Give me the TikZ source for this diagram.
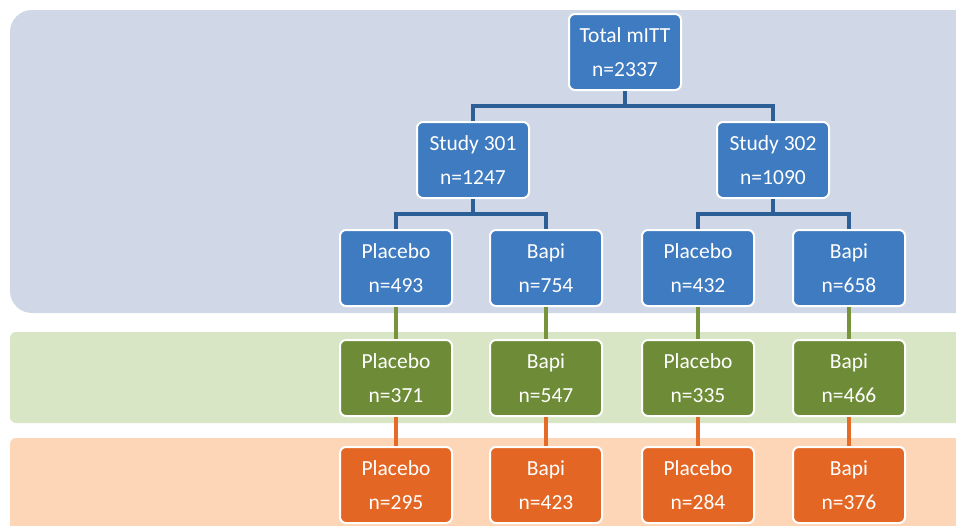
\documentclass[tikz,border=0pt]{standalone}
\usepackage{fontspec}
\setmainfont{Carlito}
\definecolor{bandblue}{HTML}{D0D8E8}
\definecolor{bandgreen}{HTML}{D8E6C6}
\definecolor{bandorange}{HTML}{FCD6B6}
\definecolor{boxblue}{HTML}{3F7BC0}
\definecolor{boxgreen}{HTML}{6E8C38}
\definecolor{boxorange}{HTML}{E46624}
\definecolor{lineblue}{HTML}{2C5F96}
\definecolor{linegreen}{HTML}{77933C}
\definecolor{lineorange}{HTML}{E46C28}
\tikzset{
  box/.style={draw=white, line width=2pt, rounded corners=6pt, minimum width=112pt, minimum height=76pt,
    text=white, align=center, inner sep=0pt, font=\fontsize{21.5}{34}\selectfont},
  bbox/.style={box, fill=boxblue},
  gbox/.style={box, fill=boxgreen},
  obox/.style={box, fill=boxorange},
  bconn/.style={draw=lineblue, line width=3.2pt},
  gconn/.style={draw=linegreen, line width=3.4pt},
  oconn/.style={draw=lineorange, line width=3.4pt}
}
\begin{document}
\begin{tikzpicture}[x=1pt,y=-1pt]
\clip (0,0) rectangle (956,525);
\fill[white] (0,0) rectangle (956,525);
% bands
\fill[bandblue, rounded corners=22pt] (10,10) rectangle (990,313);
\fill[bandgreen, rounded corners=6pt] (10,332) rectangle (990,423);
\fill[bandorange, rounded corners=6pt] (10,438) rectangle (990,560);
\coordinate (ct) at (625,106);
\coordinate (c1) at (473,214);
\coordinate (c2) at (773,214);
% nodes
\node[bbox] (tot) at (625,52) {Total mITT\\n=2337};
\node[bbox] (s301) at (473,160) {Study 301\\n=1247};
\node[bbox] (s302) at (773,160) {Study 302\\n=1090};
\node[bbox] (p1) at (396,268) {Placebo\\n=493};
\node[bbox] (b1) at (546,268) {Bapi\\n=754};
\node[bbox] (p2) at (698,268) {Placebo\\n=432};
\node[bbox] (b2) at (849,268) {Bapi\\n=658};
\node[gbox] (gp1) at (396,378) {Placebo\\n=371};
\node[gbox] (gb1) at (546,378) {Bapi\\n=547};
\node[gbox] (gp2) at (698,378) {Placebo\\n=335};
\node[gbox] (gb2) at (849,378) {Bapi\\n=466};
\node[obox] (op1) at (396,485) {Placebo\\n=295};
\node[obox] (ob1) at (546,485) {Bapi\\n=423};
\node[obox] (op2) at (698,485) {Placebo\\n=284};
\node[obox] (ob2) at (849,485) {Bapi\\n=376};
% connectors
\draw[bconn] (tot.south) -- (ct) -| (s301.north);
\draw[bconn] (ct) -| (s302.north);
\draw[bconn] (s301.south) -- (c1) -| (p1.north);
\draw[bconn] (c1) -| (b1.north);
\draw[bconn] (s302.south) -- (c2) -| (p2.north);
\draw[bconn] (c2) -| (b2.north);
\draw[gconn] (p1.south) -- (gp1.north);
\draw[gconn] (b1.south) -- (gb1.north);
\draw[gconn] (p2.south) -- (gp2.north);
\draw[gconn] (b2.south) -- (gb2.north);
\draw[oconn] (gp1.south) -- (op1.north);
\draw[oconn] (gb1.south) -- (ob1.north);
\draw[oconn] (gp2.south) -- (op2.north);
\draw[oconn] (gb2.south) -- (ob2.north);
\end{tikzpicture}
\end{document}
